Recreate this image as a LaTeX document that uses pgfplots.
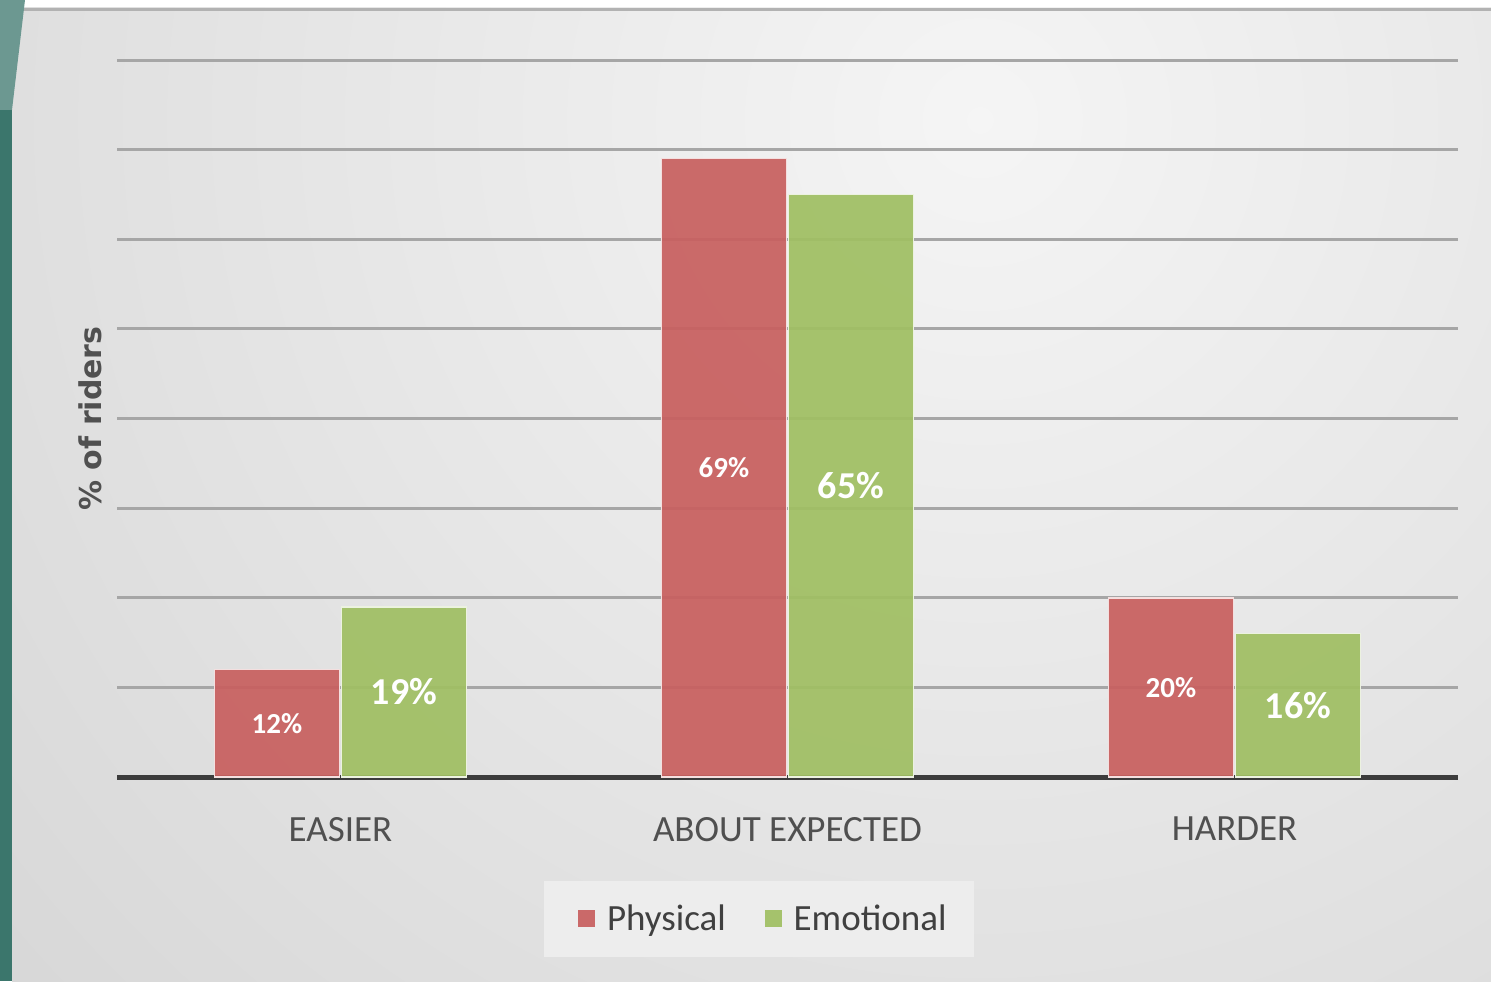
\documentclass[border=0pt]{standalone}
\usepackage{pgfplots}
\pgfplotsset{compat=1.18}
\usepackage{fontspec}
\setmainfont{Carlito}
\newfontfamily\dejavu{DejaVu Sans}

\definecolor{physred}{HTML}{C8605F}
\definecolor{emogreen}{HTML}{A0BF63}
\definecolor{gridgray}{HTML}{A6A6A6}
\definecolor{basegray}{HTML}{3C3C3C}
\definecolor{labgray}{HTML}{505050}
\definecolor{teal}{HTML}{3B766C}

\begin{document}
\begin{tikzpicture}
\useasboundingbox (0,0) rectangle (745.5pt,490.5pt);
% background, drawn in screenshot pixels
\begin{scope}[x=0.5pt, y=-0.5pt, yshift=490.5pt]
  \fill[white] (0,0) rectangle (1491,981);
  \begin{scope}
    \clip (12,8) rectangle (1491,981);
    \fill[black!19] (12,8) rectangle (1491,981);
    \shade[inner color=black!4, outer color=black!19] (980,120) circle (1700);
  \end{scope}
  \fill[black!30] (12,8) rectangle (1491,11);
  \fill[teal] (0,0) rectangle (12,981);
  \fill[teal!75!white] (0,0) -- (25,0) -- (12,110) -- (0,110) -- cycle;
\end{scope}

\begin{axis}[
    at={(58.5pt,102pt)}, anchor=south west,
    scale only axis,
    width=670.5pt, height=358.5pt,
    ybar=1pt, bar width=0.28,
    xmin=-0.5, xmax=2.5,
    ymin=0, ymax=80,
    xtick={0,1,2},
    xticklabels={EASIER, ABOUT EXPECTED, HARDER},
    xticklabel style={font=\fontsize{18.5}{20}\selectfont, text=labgray, yshift=-16.5pt},
    ytick={10,20,...,80},
    yticklabels={},
    extra y ticks={0},
    extra y tick labels={},
    extra y tick style={grid style={line width=2.5pt, draw=basegray}},
    ymajorgrids,
    grid style={line width=1.5pt, draw=gridgray},
    major tick length=0pt,
    axis line style={draw=none},
    ylabel={\dejavu\bfseries \% of riders},
    ylabel style={at={(axis description cs:-0.0201,0.5)}, anchor=center, rotate=0,
      font=\fontsize{15}{17}\selectfont, text=labgray},
    legend style={at={(axis description cs:0.4787,-0.198)}, anchor=center,
      legend columns=2, draw=none, fill=white!93!black,
      font=\fontsize{18.5}{20}\selectfont, text=black!75,
      inner xsep=11.5pt, inner ysep=10pt,
      /tikz/every odd column/.append style={column sep=4pt},
      /tikz/every even column/.append style={column sep=12pt}},
    legend image code/.code={\path (-5pt,0pt);
      \fill[#1, draw=none] (0pt,-4.25pt) rectangle (8.5pt,4.25pt);},
    visualization depends on=y \as \rawy,
    nodes near coords={\pgfmathprintnumber[assume math mode=true]{\pgfplotspointmeta}\%},
    every node near coord/.append style={anchor=center, text=white, text opacity=1,
      shift={(axis direction cs:0,-\rawy/2)}},
]
\addplot[fill=physred, fill opacity=0.93, draw=white!80!physred, line width=0.8pt,
    every node near coord/.append style={font=\bfseries\fontsize{14.5}{16}\selectfont}]
  coordinates {(0,12) (1,69) (2,20)};
\addlegendentry{Physical}
\addplot[fill=emogreen, fill opacity=0.93, draw=white!80!emogreen, line width=0.8pt,
    every node near coord/.append style={font=\bfseries\fontsize{19}{21}\selectfont}]
  coordinates {(0,19) (1,65) (2,16)};
\addlegendentry{Emotional}
\end{axis}
\end{tikzpicture}
\end{document}
